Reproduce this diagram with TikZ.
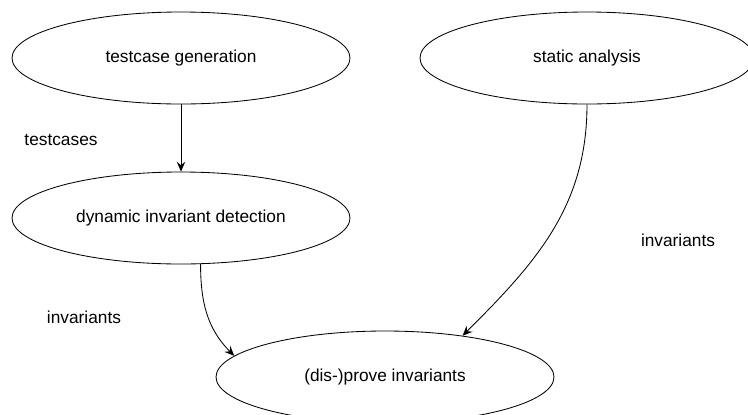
\documentclass[tikz,border=0pt]{standalone}
\usepackage{fontspec}
\setmainfont{Liberation Sans}
\usetikzlibrary{shapes.geometric,arrows.meta}
\tikzset{>={Stealth[length=7pt,width=6pt,inset=2.5pt]}}
\begin{document}
\begin{tikzpicture}[line width=0.6pt,font=\fontsize{12.3}{14}\selectfont,
  proc/.style={ellipse,draw,inner sep=0pt,minimum width=8.45cm,minimum height=2.3cm}]
  \useasboundingbox (0,0) rectangle (18.7,-10.35);
  \node[proc] (gen) at (4.525,-1.45) {testcase generation};
  \node[proc,minimum width=8.35cm] (stat) at (14.675,-1.45) {static analysis};
  \node[proc] (dyn) at (4.525,-5.45) {dynamic invariant detection};
  \node[proc] (prove) at (9.625,-9.425) {(dis-)prove invariants};
  \node (l1) at (1.525,-3.5) {testcases};
  \node (l2) at (2.1,-7.925) {invariants};
  \node (l3) at (16.95,-6.0) {invariants};
  \draw[->] (gen.south) -- (dyn.north);
  \draw[->] (dyn.-67) to[out=-90,in=135] (prove.172);
  \draw[->] (stat.south) to[out=-90,in=45] (prove.28);
\end{tikzpicture}
\end{document}
